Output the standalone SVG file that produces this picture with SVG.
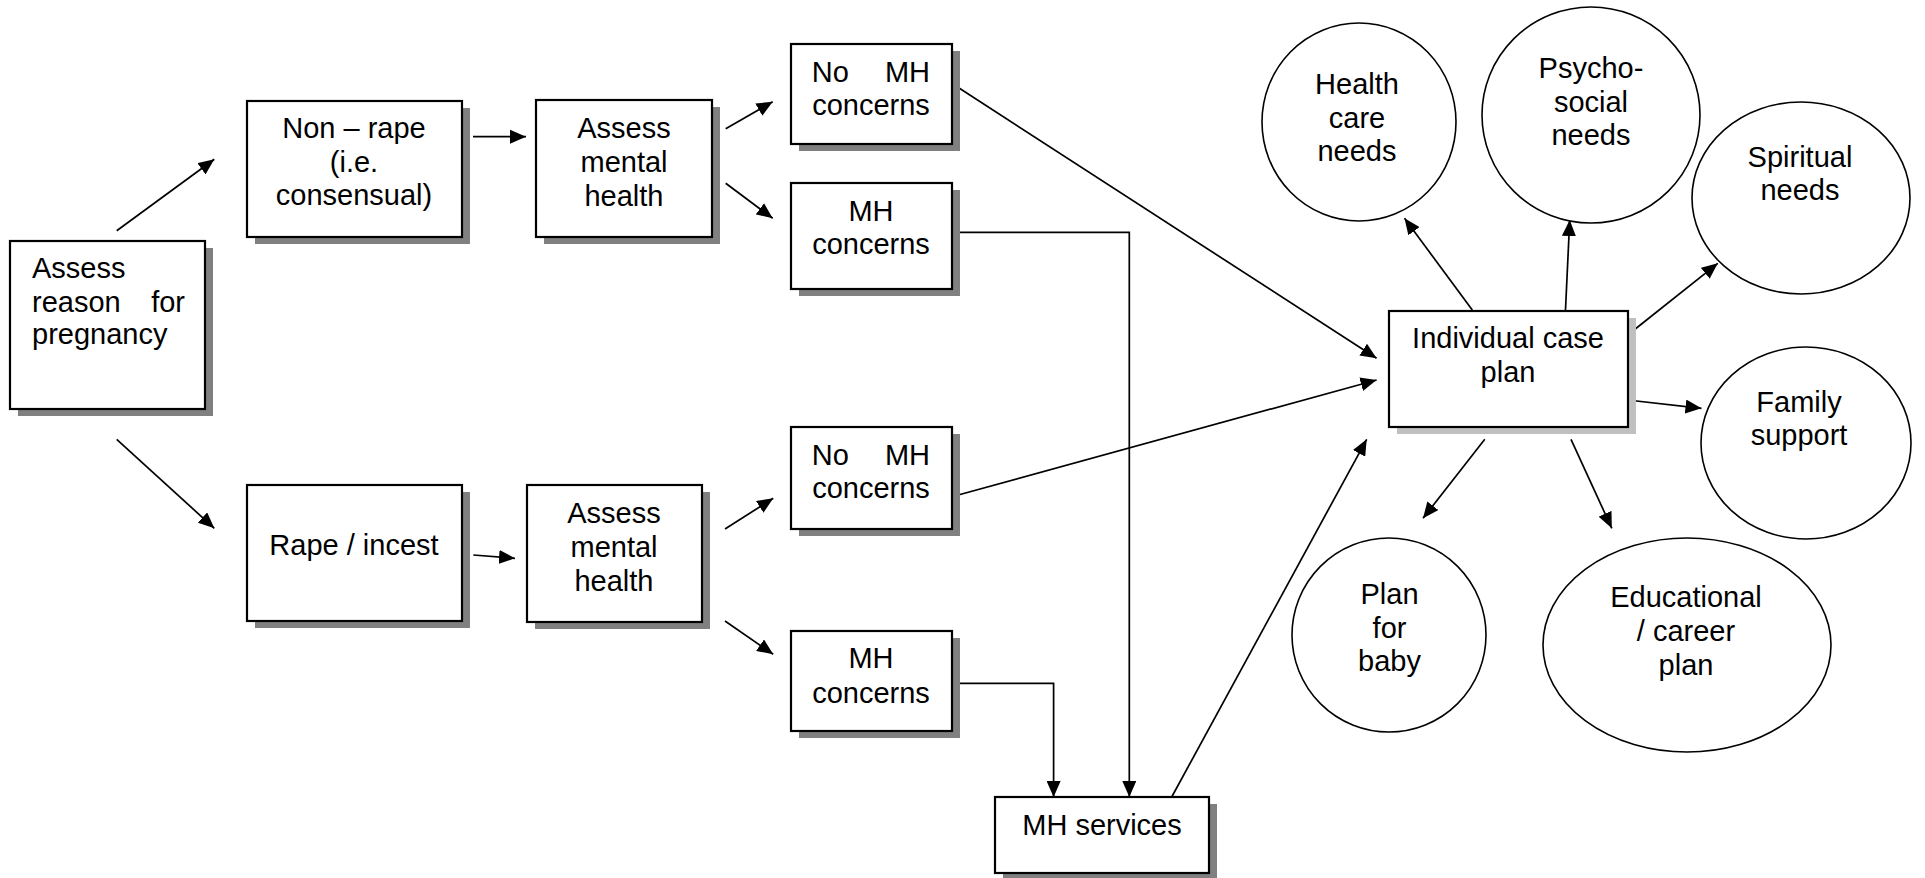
<svg xmlns="http://www.w3.org/2000/svg" width="1925" height="878" viewBox="0 0 1925 878">
<style>
text{font-family:"Liberation Sans",Arial,sans-serif;font-size:29px;fill:#000}
.c{text-anchor:middle}
.box{fill:#fff;stroke:#000;stroke-width:2.2}
.sh{fill:#808080}
.shl{fill:#c0c0c0}
.ell{fill:#fff;stroke:#000;stroke-width:1.6}
.ln{fill:none;stroke:#000;stroke-width:1.7}
</style>
<defs>
<marker id="ah" markerUnits="userSpaceOnUse" markerWidth="16" markerHeight="14" refX="16" refY="7" orient="auto">
<path d="M0,0 L16,7 L0,14 z" fill="#000"/>
</marker>
</defs>
<rect width="1925" height="878" fill="#fff"/>

<g id="connectors">
<line class="ln" x1="116.7" y1="230.7" x2="214.3" y2="159.3" marker-end="url(#ah)"/>
<line class="ln" x1="116.7" y1="439.3" x2="214.3" y2="528.3" marker-end="url(#ah)"/>
<line class="ln" x1="473" y1="136.7" x2="526" y2="136.7" marker-end="url(#ah)"/>
<line class="ln" x1="473.3" y1="555" x2="515" y2="558.3" marker-end="url(#ah)"/>
<line class="ln" x1="725.7" y1="128.7" x2="772.7" y2="101.7" marker-end="url(#ah)"/>
<line class="ln" x1="725.7" y1="183.3" x2="772.7" y2="218.3" marker-end="url(#ah)"/>
<line class="ln" x1="725" y1="529" x2="773.2" y2="498.3" marker-end="url(#ah)"/>
<line class="ln" x1="725" y1="621" x2="773.2" y2="654.3" marker-end="url(#ah)"/>
<line class="ln" x1="951.7" y1="83.3" x2="1376.6" y2="358.3" marker-end="url(#ah)"/>
<line class="ln" x1="951.8" y1="496.7" x2="1376.6" y2="380" marker-end="url(#ah)"/>
<polyline class="ln" points="951.7,232.3 1129.3,232.3 1129.3,797" marker-end="url(#ah)"/>
<polyline class="ln" points="951.8,683.3 1053.6,683.3 1053.6,797" marker-end="url(#ah)"/>
<line class="ln" x1="1171.7" y1="797" x2="1366.7" y2="439.3" marker-end="url(#ah)"/>
<line class="ln" x1="1472.3" y1="310" x2="1404.5" y2="218.3" marker-end="url(#ah)"/>
<line class="ln" x1="1565.5" y1="310" x2="1569.7" y2="220" marker-end="url(#ah)"/>
<line class="ln" x1="1627.7" y1="335" x2="1717.8" y2="263.3" marker-end="url(#ah)"/>
<line class="ln" x1="1627.7" y1="400" x2="1701.5" y2="408.3" marker-end="url(#ah)"/>
<line class="ln" x1="1484.8" y1="439.3" x2="1423" y2="518.3" marker-end="url(#ah)"/>
<line class="ln" x1="1571" y1="439.3" x2="1611.8" y2="528.3" marker-end="url(#ah)"/>
</g>

<g id="assess-reason">
<rect class="sh" x="18" y="248" width="195" height="168"/>
<rect class="box" x="10" y="241" width="195" height="168"/>
<text x="32" y="278">Assess</text>
<text y="311.5"><tspan x="32">reason</tspan><tspan x="185" text-anchor="end">for</tspan></text>
<text x="32" y="344">pregnancy</text>
</g>

<g id="non-rape">
<rect class="sh" x="255" y="108" width="215" height="136"/>
<rect class="box" x="247" y="101" width="215" height="136"/>
<text class="c" x="354" y="138">Non – rape</text>
<text class="c" x="354" y="171.5">(i.e.</text>
<text class="c" x="354" y="205">consensual)</text>
</g>

<g id="assess-mh-1">
<rect class="sh" x="544" y="107" width="176" height="137"/>
<rect class="box" x="536" y="100" width="176" height="137"/>
<text class="c" x="624" y="138.3">Assess</text>
<text class="c" x="624" y="172">mental</text>
<text class="c" x="624" y="205.5">health</text>
</g>

<g id="no-mh-1">
<rect class="sh" x="799" y="51" width="161" height="100"/>
<rect class="box" x="791" y="44" width="161" height="100"/>
<text y="81.7"><tspan x="811.7">No</tspan><tspan x="930" text-anchor="end">MH</tspan></text>
<text class="c" x="871" y="115">concerns</text>
</g>

<g id="mh-1">
<rect class="sh" x="799" y="190" width="161" height="106"/>
<rect class="box" x="791" y="183" width="161" height="106"/>
<text class="c" x="871" y="220.7">MH</text>
<text class="c" x="871" y="254">concerns</text>
</g>

<g id="rape">
<rect class="sh" x="255" y="492" width="215" height="136"/>
<rect class="box" x="247" y="485" width="215" height="136"/>
<text class="c" x="354" y="555">Rape / incest</text>
</g>

<g id="assess-mh-2">
<rect class="sh" x="535" y="492" width="175" height="137"/>
<rect class="box" x="527" y="485" width="175" height="137"/>
<text class="c" x="614" y="523.3">Assess</text>
<text class="c" x="614" y="557.3">mental</text>
<text class="c" x="614" y="590.7">health</text>
</g>

<g id="no-mh-2">
<rect class="sh" x="799" y="434" width="161" height="102"/>
<rect class="box" x="791" y="427" width="161" height="102"/>
<text y="465"><tspan x="811.7">No</tspan><tspan x="930" text-anchor="end">MH</tspan></text>
<text class="c" x="871" y="498.3">concerns</text>
</g>

<g id="mh-2">
<rect class="sh" x="799" y="638" width="161" height="100"/>
<rect class="box" x="791" y="631" width="161" height="100"/>
<text class="c" x="871" y="668.3">MH</text>
<text class="c" x="871" y="702.7">concerns</text>
</g>

<g id="mh-services">
<rect class="sh" x="1003" y="804" width="214" height="76"/>
<rect class="box" x="995" y="797" width="214" height="76"/>
<text class="c" x="1102" y="835">MH services</text>
</g>

<g id="case-plan">
<rect class="shl" x="1397" y="318" width="239" height="116"/>
<rect class="box" x="1389" y="311" width="239" height="116"/>
<text class="c" x="1508" y="348.3">Individual case</text>
<text class="c" x="1508" y="381.7">plan</text>
</g>

<g id="health-care">
<ellipse class="ell" cx="1359" cy="122" rx="97" ry="99"/>
<text class="c" x="1357" y="94.3">Health</text>
<text class="c" x="1357" y="127.7">care</text>
<text class="c" x="1357" y="161">needs</text>
</g>

<g id="psycho-social">
<ellipse class="ell" cx="1591" cy="115" rx="109" ry="108"/>
<text class="c" x="1591" y="78.3">Psycho-</text>
<text class="c" x="1591" y="111.7">social</text>
<text class="c" x="1591" y="145">needs</text>
</g>

<g id="spiritual">
<ellipse class="ell" cx="1801" cy="198" rx="109" ry="96"/>
<text class="c" x="1800" y="166.7">Spiritual</text>
<text class="c" x="1800" y="200">needs</text>
</g>

<g id="family">
<ellipse class="ell" cx="1806" cy="443" rx="105" ry="96"/>
<text class="c" x="1799" y="411.7">Family</text>
<text class="c" x="1799" y="445">support</text>
</g>

<g id="baby">
<ellipse class="ell" cx="1389" cy="635" rx="97" ry="97"/>
<text class="c" x="1389.5" y="604">Plan</text>
<text class="c" x="1389.5" y="637.5">for</text>
<text class="c" x="1389.5" y="671">baby</text>
</g>

<g id="educational">
<ellipse class="ell" cx="1687" cy="645" rx="144" ry="107"/>
<text class="c" x="1686" y="607.3">Educational</text>
<text class="c" x="1686" y="641">/ career</text>
<text class="c" x="1686" y="674.5">plan</text>
</g>
</svg>
